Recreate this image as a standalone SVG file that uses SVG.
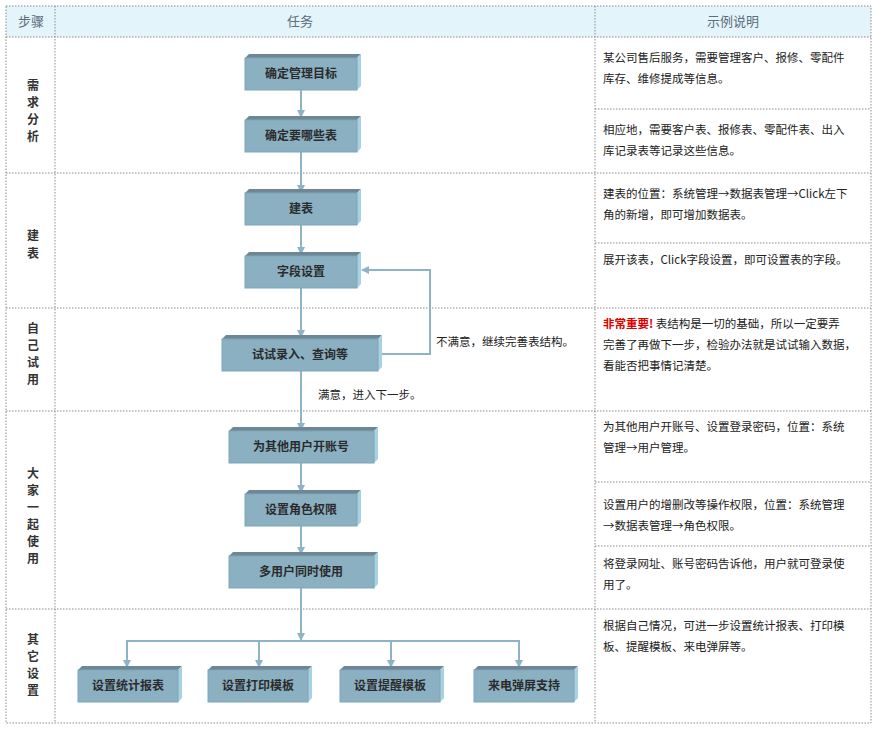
<svg xmlns="http://www.w3.org/2000/svg" width="878" height="730" viewBox="0 0 878 730">
<style>
.g{stroke:#8a8a8a;stroke-width:1;stroke-dasharray:1.5 1.5;fill:none}
.hd{font-family:"Liberation Sans","Noto Sans CJK SC",sans-serif;font-size:13px;fill:#5b6e7c;text-anchor:middle}
.st{font-family:"Noto Sans CJK SC",sans-serif;font-size:12px;font-weight:bold;fill:#333;text-anchor:middle}
.bt{font-family:"Noto Sans CJK SC",sans-serif;font-size:12px;font-weight:bold;fill:#2b2b2b;text-anchor:middle}
.tx{font-family:"Noto Sans CJK SC",sans-serif;font-size:11.5px;fill:#222}
.f{fill:#8ab0c2;stroke:#7fa6b8}
.t{fill:#6f8794}
.r{fill:#a6d2e4}
.c{stroke:#8db4c6;stroke-width:2;fill:none}
</style>
<defs>
<marker id="a" markerWidth="8" markerHeight="8" refX="7" refY="4" orient="auto" markerUnits="userSpaceOnUse"><path d="M0,0 L8,4 L0,8 Z" fill="#8db4c6"/></marker>
</defs>
<rect x="0" y="0" width="878" height="730" fill="#fff"/>
<rect x="6" y="6" width="865" height="31" fill="#e3f4fb"/>
<g id="grid">
<rect class="g" x="6" y="6" width="865" height="717"/>
<line class="g" x1="6" y1="37" x2="871" y2="37"/>
<line class="g" x1="55" y1="6" x2="55" y2="723"/>
<line class="g" x1="595" y1="6" x2="595" y2="723"/>
<line class="g" x1="6" y1="173" x2="871" y2="173"/>
<line class="g" x1="6" y1="308" x2="871" y2="308"/>
<line class="g" x1="6" y1="411" x2="871" y2="411"/>
<line class="g" x1="6" y1="609" x2="871" y2="609"/>
<line class="g" x1="595" y1="109" x2="871" y2="109"/>
<line class="g" x1="595" y1="243" x2="871" y2="243"/>
<line class="g" x1="595" y1="482" x2="871" y2="482"/>
<line class="g" x1="595" y1="546" x2="871" y2="546"/>
</g>
<g id="header">
<text class="hd" x="31" y="26">步骤</text>
<text class="hd" x="300" y="26">任务</text>
<text class="hd" x="733" y="26">示例说明</text>
</g>
<g id="steps">
<text class="st" x="33" y="90">需</text><text class="st" x="33" y="107">求</text><text class="st" x="33" y="124">分</text><text class="st" x="33" y="141">析</text>
<text class="st" x="33" y="240">建</text><text class="st" x="33" y="258">表</text>
<text class="st" x="33" y="333">自</text><text class="st" x="33" y="350">己</text><text class="st" x="33" y="367">试</text><text class="st" x="33" y="384">用</text>
<text class="st" x="33" y="478">大</text><text class="st" x="33" y="495">家</text><text class="st" x="33" y="512">一</text><text class="st" x="33" y="529">起</text><text class="st" x="33" y="546">使</text><text class="st" x="33" y="563">用</text>
<text class="st" x="33" y="644">其</text><text class="st" x="33" y="661">它</text><text class="st" x="33" y="678">设</text><text class="st" x="33" y="695">置</text>
</g>
<g id="connectors">
<line class="c" x1="301" y1="90" x2="301" y2="117" marker-end="url(#a)"/>
<line class="c" x1="301" y1="152" x2="301" y2="192" marker-end="url(#a)"/>
<line class="c" x1="301" y1="225" x2="301" y2="254" marker-end="url(#a)"/>
<line class="c" x1="301" y1="288" x2="301" y2="337" marker-end="url(#a)"/>
<polyline class="c" points="378,354 430,354 430,270 362,270" marker-end="url(#a)"/>
<line class="c" x1="301" y1="371" x2="301" y2="430" marker-end="url(#a)"/>
<line class="c" x1="301" y1="463" x2="301" y2="492" marker-end="url(#a)"/>
<line class="c" x1="301" y1="526" x2="301" y2="554" marker-end="url(#a)"/>
<line class="c" x1="301" y1="588" x2="301" y2="640" marker-end="url(#a)"/>
<polyline class="c" points="127,668 127,641 519,641 519,668"/>
<line class="c" x1="127" y1="650" x2="127" y2="667" marker-end="url(#a)"/>
<line class="c" x1="259" y1="641" x2="259" y2="667" marker-end="url(#a)"/>
<line class="c" x1="391" y1="641" x2="391" y2="667" marker-end="url(#a)"/>
<line class="c" x1="519" y1="650" x2="519" y2="667" marker-end="url(#a)"/>
<text class="tx" x="436" y="346">不满意，继续完善表结构。</text>
<text class="tx" x="318" y="399">满意，进入下一步。</text>
</g>
<g id="n1"><polygon class="t" points="245,58 249,54 361,54 357,58"/><polygon class="r" points="357,58 361,54 361,86 357,90"/><rect class="f" x="245" y="58" width="112" height="32"/><text class="bt" x="301" y="78">确定管理目标</text></g>
<g id="n2"><polygon class="t" points="245,120 249,116 361,116 357,120"/><polygon class="r" points="357,120 361,116 361,148 357,152"/><rect class="f" x="245" y="120" width="112" height="32"/><text class="bt" x="301" y="140">确定要哪些表</text></g>
<g id="n3"><polygon class="t" points="245,193 249,189 361,189 357,193"/><polygon class="r" points="357,193 361,189 361,221 357,225"/><rect class="f" x="245" y="193" width="112" height="32"/><text class="bt" x="301" y="213">建表</text></g>
<g id="n4"><polygon class="t" points="245,256 249,252 361,252 357,256"/><polygon class="r" points="357,256 361,252 361,284 357,288"/><rect class="f" x="245" y="256" width="112" height="32"/><text class="bt" x="301" y="276">字段设置</text></g>
<g id="n5"><polygon class="t" points="222,339 226,335 382,335 378,339"/><polygon class="r" points="378,339 382,335 382,367 378,371"/><rect class="f" x="222" y="339" width="156" height="32"/><text class="bt" x="300" y="359">试试录入、查询等</text></g>
<g id="n6"><polygon class="t" points="229,431 233,427 378,427 374,431"/><polygon class="r" points="374,431 378,427 378,459 374,463"/><rect class="f" x="229" y="431" width="145" height="32"/><text class="bt" x="301" y="451">为其他用户开账号</text></g>
<g id="n7"><polygon class="t" points="245,494 249,490 361,490 357,494"/><polygon class="r" points="357,494 361,490 361,522 357,526"/><rect class="f" x="245" y="494" width="112" height="32"/><text class="bt" x="301" y="514">设置角色权限</text></g>
<g id="n8"><polygon class="t" points="229,556 233,552 378,552 374,556"/><polygon class="r" points="374,556 378,552 378,584 374,588"/><rect class="f" x="229" y="556" width="145" height="32"/><text class="bt" x="301" y="576">多用户同时使用</text></g>
<g id="n9"><polygon class="t" points="78,670 82,666 182,666 178,670"/><polygon class="r" points="178,670 182,666 182,698 178,702"/><rect class="f" x="78" y="670" width="100" height="32"/><text class="bt" x="128" y="690">设置统计报表</text></g>
<g id="n10"><polygon class="t" points="208,670 212,666 312,666 308,670"/><polygon class="r" points="308,670 312,666 312,698 308,702"/><rect class="f" x="208" y="670" width="100" height="32"/><text class="bt" x="258" y="690">设置打印模板</text></g>
<g id="n11"><polygon class="t" points="340,670 344,666 444,666 440,670"/><polygon class="r" points="440,670 444,666 444,698 440,702"/><rect class="f" x="340" y="670" width="100" height="32"/><text class="bt" x="390" y="690">设置提醒模板</text></g>
<g id="n12"><polygon class="t" points="474,670 478,666 578,666 574,670"/><polygon class="r" points="574,670 578,666 578,698 574,702"/><rect class="f" x="474" y="670" width="100" height="32"/><text class="bt" x="524" y="690">来电弹屏支持</text></g>
<g id="notes">
<text class="tx" x="603" y="62">某公司售后服务，需要管理客户、报修、零配件</text>
<text class="tx" x="603" y="83">库存、维修提成等信息。</text>
<text class="tx" x="603" y="134">相应地，需要客户表、报修表、零配件表、出入</text>
<text class="tx" x="603" y="155">库记录表等记录这些信息。</text>
<text class="tx" x="603" y="198">建表的位置：系统管理→数据表管理→Click左下</text>
<text class="tx" x="603" y="219">角的新增，即可增加数据表。</text>
<text class="tx" x="603" y="264">展开该表，Click字段设置，即可设置表的字段。</text>
<text class="tx" x="603" y="328"><tspan fill="#e00000" font-weight="bold">非常重要!</tspan> 表结构是一切的基础，所以一定要弄</text>
<text class="tx" x="603" y="349">完善了再做下一步，检验办法就是试试输入数据，</text>
<text class="tx" x="603" y="370">看能否把事情记清楚。</text>
<text class="tx" x="603" y="431">为其他用户开账号、设置登录密码，位置：系统</text>
<text class="tx" x="603" y="452">管理→用户管理。</text>
<text class="tx" x="603" y="509">设置用户的增删改等操作权限，位置：系统管理</text>
<text class="tx" x="603" y="530">→数据表管理→角色权限。</text>
<text class="tx" x="603" y="568">将登录网址、账号密码告诉他，用户就可登录使</text>
<text class="tx" x="603" y="589">用了。</text>
<text class="tx" x="603" y="630">根据自己情况，可进一步设置统计报表、打印模</text>
<text class="tx" x="603" y="651">板、提醒模板、来电弹屏等。</text>
</g>
</svg>
